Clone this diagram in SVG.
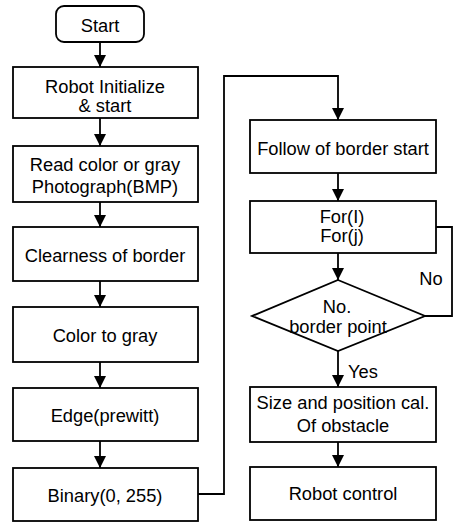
<svg xmlns="http://www.w3.org/2000/svg" width="454" height="522" viewBox="0 0 454 522">
<defs>
<marker id="ah" markerUnits="userSpaceOnUse" markerWidth="12" markerHeight="12" refX="12" refY="6" orient="auto">
<path d="M0,0 L12,6 L0,12 Z" fill="#000"/>
</marker>
<style>
.b{fill:#fff;stroke:#000;stroke-width:1.8}
.t{font-family:"Liberation Sans",Arial,sans-serif;font-size:18.3px;fill:#000;text-anchor:middle}
.c{fill:none;stroke:#000;stroke-width:1.8}
.a{marker-end:url(#ah)}
</style>
</defs>
<rect width="454" height="522" fill="#fff"/>
<g id="connectors">
<line class="c a" x1="100" y1="42" x2="100" y2="67"/>
<line class="c a" x1="100" y1="118" x2="100" y2="146"/>
<line class="c a" x1="100" y1="202" x2="100" y2="227"/>
<line class="c a" x1="100" y1="281" x2="100" y2="307"/>
<line class="c a" x1="100" y1="362" x2="100" y2="388"/>
<line class="c a" x1="100" y1="441" x2="100" y2="468"/>
<polyline class="c a" points="198,494 224,494 224,76 338,76 338,120"/>
<line class="c a" x1="338" y1="173" x2="338" y2="201"/>
<line class="c a" x1="338" y1="253" x2="338" y2="280"/>
<polyline class="c" points="436,227 452,227 452,316 425,316"/>
<line class="c a" x1="338" y1="351" x2="338" y2="387"/>
<line class="c a" x1="338" y1="442" x2="338" y2="467"/>
<text class="t" x="431" y="285">No</text>
<text class="t" x="348" y="378" style="text-anchor:start">Yes</text>
</g>
<g id="start">
<rect class="b" x="56" y="6" width="88" height="36" rx="8"/>
<text class="t" x="100" y="32">Start</text>
</g>
<g id="init">
<rect class="b" x="13" y="67" width="185" height="51"/>
<text class="t" x="105" y="93">Robot Initialize</text>
<text class="t" x="105" y="112">&amp; start</text>
</g>
<g id="read">
<rect class="b" x="13" y="146" width="185" height="56"/>
<text class="t" x="105" y="171">Read color or gray</text>
<text class="t" x="105" y="193">Photograph(BMP)</text>
</g>
<g id="clearness">
<rect class="b" x="13" y="227" width="185" height="54"/>
<text class="t" x="105" y="262">Clearness of border</text>
</g>
<g id="color">
<rect class="b" x="13" y="307" width="185" height="55"/>
<text class="t" x="105" y="342">Color to gray</text>
</g>
<g id="edge">
<rect class="b" x="13" y="388" width="185" height="53"/>
<text class="t" x="105" y="422">Edge(prewitt)</text>
</g>
<g id="binary">
<rect class="b" x="13" y="468" width="185" height="53"/>
<text class="t" x="105" y="502">Binary(0, 255)</text>
</g>
<g id="follow">
<rect class="b" x="250" y="120" width="186" height="53"/>
<text class="t" x="343" y="155">Follow of border start</text>
</g>
<g id="for">
<rect class="b" x="250" y="201" width="186" height="52"/>
<text class="t" x="342" y="223">For(I)</text>
<text class="t" x="342" y="242">For(j)</text>
</g>
<g id="decision">
<polygon class="b" points="338,280 425,316 338,351 252,316"/>
<text class="t" x="337" y="313">No.</text>
<text class="t" x="338" y="333">border point</text>
</g>
<g id="size">
<rect class="b" x="250" y="387" width="186" height="55"/>
<text class="t" x="343" y="409">Size and position cal.</text>
<text class="t" x="343" y="432">Of obstacle</text>
</g>
<g id="control">
<rect class="b" x="250" y="467" width="186" height="53"/>
<text class="t" x="343" y="500">Robot control</text>
</g>
</svg>
